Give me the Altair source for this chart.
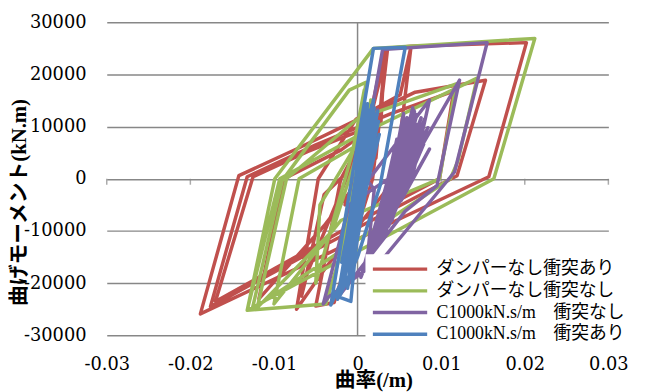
import altair as alt
import pandas as pd

series_names = ["ダンパーなし衝突あり", "ダンパーなし衝突なし", "C1000kN.s/m　衝突なし", "C1000kN.s/m　衝突あり"]
series_colors = ["#C0504D", "#9BBB59", "#8064A2", "#4F81BD"]

red_x = [0, 0.0009, -0.0009, 0.0019, -0.0018, 0.0031, 0.0036, 0.0018, -0.0028, -0.0050, -0.0020, 0.0012, 0.0036, 0.0064, 0.0045, -0.0038, -0.0073, -0.0047, -0.0002, 0.0051, 0.0064, 0.0202, 0.0157, 0.0045, -0.0073, -0.0188, -0.0142, -0.0073, -0.0002, 0.0069, 0.0153, 0.0119, 0.0032, -0.0062, -0.0176, -0.0132, -0.0050, 0.0040, 0.0115, 0.0098, 0.0000, -0.0090, -0.0170, -0.0125, -0.0060, 0.0028, 0.0031, 0.0022, -0.0040, -0.0118, -0.0088, -0.0020, 0.0010, -0.0060, -0.0067, -0.0040, 0.0005, -0.0015, 0.0]
red_y = [0, 7600, -6600, 15100, -13200, 24200, 25000, 0, -23700, -24400, 0, 9500, 25000, 25400, 0, -17000, -25000, 0, 11400, 16100, 25400, 26100, 400, -8100, -17200, -25900, 600, 5700, 11200, 16600, 18900, 600, -6700, -14600, -24500, 400, 6500, 12500, 16800, 0, -8300, -16400, -23500, 400, 5200, 10800, 20000, 4000, -9000, -23000, 0, 5500, 9000, -18000, -22500, -3000, 4000, -5000, 0]

green_x = [0, 0.0007, -0.0006, 0.0012, -0.0012, 0.0016, -0.0020, -0.0038, -0.0132, -0.0099, 0.0019, 0.0212, 0.0163, 0.0045, -0.0073, -0.0132, -0.0093, 0.0003, 0.0143, 0.0120, 0.0111, 0.0010, -0.0126, -0.0090, -0.0010, 0.0010, 0.0000, -0.0030, -0.0120, -0.0085, 0.0000, 0.0118, 0.0098, -0.0020, -0.0100, -0.0070, -0.0005, 0.0008, -0.0012, 0.0006, -0.0050, -0.0045, 0.0004, -0.0008, 0.0]
green_y = [0, 5700, -4700, 10400, -9500, 15100, -14200, -24000, -25200, 0, 25000, 26900, 0, -10100, -20100, -25200, 0, 8500, 19300, 3400, 0, -10700, -25000, -300, 17000, 18500, 5000, -10000, -24700, 0, 11500, 18200, 0, -8000, -24000, 0, 6000, 17000, -16000, 12000, -20000, -5000, 8000, -6000, 0]

purple_x = [0, 0.0012, -0.0006, 0.0024, -0.0012, 0.0030, 0.0155, 0.0116, 0.0033, -0.0035, -0.0041, -0.0010, 0.0065, 0.0122, 0.0095, 0.0057, -0.0020, -0.0005, 0.0086, 0.0065, 0.0030,
            0.0068, 0.0039, 0.0078, 0.0027, 0.0059, 0.0045, 0.0083, 0.0033, 0.0066, 0.0024, 0.0074, 0.0043, 0.0054, 0.0031, 0.0080, 0.0047, 0.0063, 0.0035, 0.0071, 0.0021, 0.0057, 0.0040, 0.0084, 0.0028, 0.0065, 0.0015, 0.0051, 0.0004,
            0.0076, 0.0044, 0.0061, 0.0030, 0.0082, 0.0050, 0.0055, 0.0025, 0.0072, 0.0041, 0.0067, 0.0018, 0.0052, 0.0037, 0.0079, 0.0046, 0.0058, 0.0026, 0.0086, 0.0052, 0.0064, 0.0032, 0.0077, 0.0021, 0.0047, 0.0038, 0.0070, 0.0012,
            0.0020, 0.0010]
purple_y = [0, 7600, -5700, 13200, -13200, 24800, 26100, 1300, -14800, -22700, -24000, -5000, 3000, 18900, -1300, -6200, -22000, -4000, 15100, 0, -9500,
            12900, -6600, 10400, -10400, 11700, -4700, 8500, -9500, 13600, -12300, 7600, -6100, 9800, -11400, 11400, -3800, 9100, -8500, 12300, -13200, 7600, -7200, 9800, -9800, 11000, -14200, 8500, -18900,
            11700, -5300, 10200, -10600, 9100, -3400, 12500, -12700, 8000, -8000, 13200, -13600, 7200, -9100, 6600, -5700, 10600, -11400, 5700, -4200, 12100, -9800, 9800, -11000, 7600, -7600, 10400, -14800,
            -2000, 0]

blue_x = [0, 0.0009, -0.0008, 0.0015, -0.0014, 0.0021, -0.0020, 0.0007, -0.0005, 0.0019, -0.0017, -0.0032, 0.0019, 0.0057, 0.0027, 0.0000, -0.0022, -0.0008, 0.0012, -0.0012, 0.0024, -0.0007, 0.0005, -0.0018, 0.0014, -0.0011, 0.0008, -0.0022, 0.0011, -0.0004, 0.0017, -0.0015, 0.0006, -0.0009, 0.0013, -0.0003, 0.0020, -0.0012, 0.0010, -0.0019, 0.0016, -0.0006, 0.0022,
          0.0017, -0.0015, 0.0011, -0.0006, 0.0025, -0.0021, 0.0006, -0.0002, 0.0020, -0.0013, 0.0013, -0.0019, 0.0022, -0.0009, 0.0008, -0.0017, 0.0018, -0.0004, 0.0012, -0.0020, 0.0026, -0.0012, 0.0007, -0.0007, 0.0021, -0.0024,
          0.0]
blue_y = [0, 9500, -11400, 13200, -17000, 12300, -20800, 7600, -11400, 15100, -18900, -24200, 25000, 25200, -1300, -15000, -22700, -23500, 10400, -15100, 12900, -12300, 5700, -19900, 8500, -16100, 11400, -22700, 11000, -9000, 14000, -13500, 9000, -19000, 12000, -6000, 10000, -21000, 7000, -16000, 6000, -17000, 9000,
          14200, -18000, 11700, -10400, 11000, -21800, 8500, -9100, 13600, -15500, 9800, -20400, 9500, -13200, 12900, -18500, 7600, -9800, 14400, -22000, 8500, -16700, 10400, -14200, 11700, -23100,
          0]

x_ticks = [-0.03, -0.02, -0.01, 0, 0.01, 0.02, 0.03]
y_ticks = [-30000, -20000, -10000, 0, 10000, 20000, 30000]

rows = []
for name, xs, ys in zip(series_names, [red_x, green_x, purple_x, blue_x], [red_y, green_y, purple_y, blue_y]):
    assert len(xs) == len(ys), name
    for i, (xv, yv) in enumerate(zip(xs, ys)):
        rows.append({"series": name, "i": i, "x": xv, "y": yv})
df = pd.DataFrame(rows)

GRAY = "#878787"
SERIF = "DejaVu Serif"
JP = "Liberation Serif, Noto Sans CJK JP"

xscale = alt.Scale(domain=[-0.03, 0.03], nice=False, zero=False)
yscale = alt.Scale(domain=[-30000, 30000], nice=False, zero=False)

x_axis = alt.Axis(values=x_ticks, grid=False, domain=False, ticks=False, labelFlush=False, labelOverlap=False,
                  labelExpr="datum.value == 0 ? '0' : (datum.value < 0 ? '-' : '') + format(abs(datum.value), '.2f')",
                  labelFont=SERIF, labelFontSize=18, labelColor="black", labelPadding=30, labelBaseline="middle",
                  title="曲率(/m)", titleFont=JP, titleFontSize=21, titleFontWeight="bold", titleColor="black",
                  titleX=270, titleY=46, titleAlign="center", titleBaseline="middle")
y_axis = alt.Axis(values=y_ticks, grid=True, gridColor=GRAY, gridWidth=1.5, domain=False, ticks=False,
                  labelFlush=False, labelOverlap=False,
                  labelExpr="(datum.value < 0 ? '-' : '') + format(abs(datum.value), 'd')",
                  labelFont=SERIF, labelFontSize=18, labelColor="black", labelPadding=21,
                  title="曲げモーメント(kN.m)", titleFont=JP, titleFontSize=21, titleFontWeight="bold", titleColor="black",
                  titleX=-88, titleY=182, titleAngle=270, titleAlign="center", titleBaseline="middle")

vline = alt.Chart(pd.DataFrame({"x": [0], "y": [-30000], "y2": [30000]})).mark_rule(color=GRAY, strokeWidth=1.5).encode(
    x=alt.X("x:Q", scale=xscale, axis=x_axis),
    y=alt.Y("y:Q", scale=yscale, axis=y_axis),
    y2="y2:Q",
)

ticks = alt.Chart(pd.DataFrame({"x": x_ticks, "y": [0] * len(x_ticks)})).mark_tick(
    color=GRAY, thickness=1.5, size=6, yOffset=3, orient="vertical").encode(
    x=alt.X("x:Q", scale=xscale, axis=x_axis),
    y=alt.Y("y:Q", scale=yscale, axis=y_axis),
)

lines = alt.Chart(df).mark_line(strokeWidth=3.5, strokeJoin="round").encode(
    x=alt.X("x:Q", scale=xscale, axis=x_axis),
    y=alt.Y("y:Q", scale=yscale, axis=y_axis),
    color=alt.Color("series:N", scale=alt.Scale(domain=series_names, range=series_colors),
                    legend=alt.Legend(title=None, orient="none", legendX=262, legendY=235, fillColor="white",
                                      padding=6, symbolType="M-5,0H5", symbolSize=121, symbolStrokeWidth=3.5,
                                      symbolOffset=20, labelOffset=28,
                                      labelFont=JP, labelFontSize=18, labelColor="black",
                                      rowPadding=4, labelLimit=400)),
    order=alt.Order("i:Q"),
)

chart = alt.layer(vline, ticks, lines).properties(
    width=508, height=317,
    autosize=alt.AutoSizeParams(type="none"),
    padding={"left": 100, "top": 12, "right": 30, "bottom": 58},
    background="white",
).configure_view(stroke=None)

chart.save("out.html", embed_options={"renderer": "svg", "actions": False})
